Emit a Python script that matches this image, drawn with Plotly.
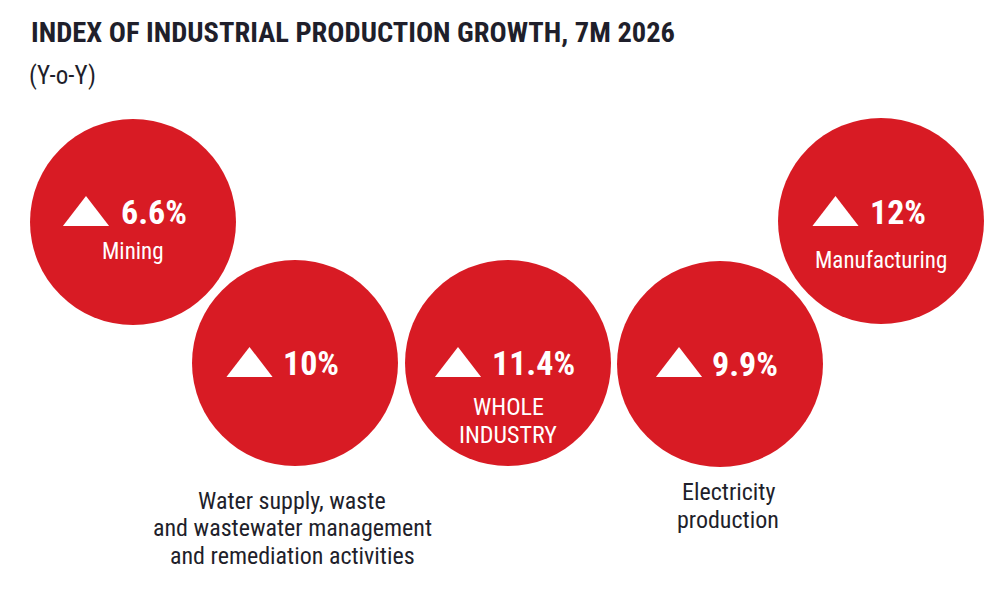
import plotly.graph_objects as go

# data
sectors = ["Mining", "Water supply", "Whole industry", "Electricity production", "Manufacturing"]
growth = [6.6, 10, 11.4, 9.9, 12]
inner_labels = ["Mining", "", "WHOLE<br>INDUSTRY", "", "Manufacturing"]
outer_labels = ["", "Water supply, waste<br>and wastewater management<br>and remediation activities",
                "", "Electricity<br>production", ""]

# layout (pixel positions, y downwards)
cx = [133, 295, 508, 720, 881]
cy = [222, 363, 363, 364, 221]
tri_x = [86, 249.5, 458, 679, 835.5]
tri_y = [216, 367, 367, 367, 216]
val_x = [119, 281, 490, 710, 868]
val_y = [212, 363, 363, 364, 212]
in_y = [251, 0, 407, 0, 260]
in_size = [23, 0, 24, 0, 23]
out_x = [0, 292, 0, 728, 0]
out_y = [0, 500.5, 0, 492, 0]
line_gap = 27.5

RED = "#D81B24"
DARK = "#1f1f2b"
FONT = "Roboto Condensed, Liberation Sans Narrow, DejaVu Sans Condensed, sans-serif"

fig = go.Figure()

fig.add_trace(go.Scatter(
    x=cx, y=cy, mode="markers",
    marker=dict(size=206, color=RED, line=dict(width=0)),
    hovertext=sectors, hoverinfo="text", showlegend=False,
))
fig.add_trace(go.Scatter(
    x=tri_x, y=tri_y, mode="markers",
    marker=dict(symbol="triangle-up", size=40, color="white", line=dict(width=0)),
    hoverinfo="skip", showlegend=False,
))

for i, v in enumerate(growth):
    fig.add_annotation(
        x=val_x[i], y=val_y[i], xref="x", yref="y", showarrow=False,
        text=f"<b>{v:g}%</b>", xanchor="left", yanchor="middle",
        font=dict(family=FONT, size=34, color="white"),
    )
    if inner_labels[i]:
        for k, line in enumerate(inner_labels[i].split("<br>")):
            fig.add_annotation(
                x=cx[i], y=in_y[i] + k * 28, xref="x", yref="y", showarrow=False,
                text=line, xanchor="center", yanchor="middle",
                font=dict(family=FONT, size=in_size[i], color="white"),
            )
    if outer_labels[i]:
        for k, line in enumerate(outer_labels[i].split("<br>")):
            fig.add_annotation(
                x=out_x[i], y=out_y[i] + k * line_gap, xref="x", yref="y", showarrow=False,
                text=line, xanchor="center", yanchor="middle",
                font=dict(family=FONT, size=24, color=DARK),
            )

fig.add_annotation(
    x=29, y=32.5, xref="x", yref="y", showarrow=False,
    text="<b>INDEX OF INDUSTRIAL PRODUCTION GROWTH, 7M 2026</b>",
    xanchor="left", yanchor="middle",
    font=dict(family=FONT, size=28.5, color=DARK),
)
fig.add_annotation(
    x=27, y=75, xref="x", yref="y", showarrow=False,
    text="(Y-o-Y)", xanchor="left", yanchor="middle",
    font=dict(family=FONT, size=25, color=DARK),
)

fig.update_layout(
    width=1000, height=607,
    margin=dict(l=0, r=0, t=0, b=0),
    paper_bgcolor="white", plot_bgcolor="white",
    xaxis=dict(range=[0, 1000], visible=False, fixedrange=True),
    yaxis=dict(range=[607, 0], visible=False, fixedrange=True),
)

fig.write_html("out.html", config={"displayModeBar": False},
               post_script="document.body.style.margin='0';")
